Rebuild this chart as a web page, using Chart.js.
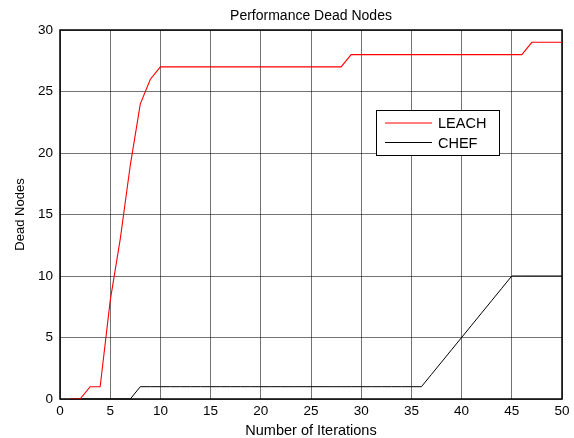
<!DOCTYPE html>
<html>
<head>
<meta charset="utf-8">
<script src="https://cdn.jsdelivr.net/npm/chart.js@4.4.1/dist/chart.umd.min.js"></script>
<style>
  html, body { margin: 0; padding: 0; background: #ffffff; }
  #wrap { width: 574px; height: 438px; }
</style>
</head>
<body>
<div id="wrap"><canvas id="c" width="574" height="438"></canvas></div>
<script>
// ---- data ----
const chartTitle = "Performance Dead Nodes";
const xTitle = "Number of Iterations";
const yTitle = "Dead Nodes";
const seriesNames = ["LEACH", "CHEF"];
const seriesColors = ["#ff0000", "#000000"];
const iterations = [1,2,3,4,5,6,7,8,9,10,11,12,13,14,15,16,17,18,19,20,21,22,23,24,25,26,27,28,29,30,31,32,33,34,35,36,37,38,39,40,41,42,43,44,45,46,47,48,49,50];
const leach = [0,0,1,1,8,13,19,24,26,27, 27,27,27,27,27,27,27,27,27,27, 27,27,27,27,27,27,27,27,28,28, 28,28,28,28,28,28,28,28,28,28, 28,28,28,28,28,28,29,29,29,29];
const chef  = [0,0,0,0,0,0,0,1,1,1, 1,1,1,1,1,1,1,1,1,1, 1,1,1,1,1,1,1,1,1,1, 1,1,1,1,1,1,2,3,4,5, 6,7,8,9,10,10,10,10,10,10];
const xTicks = [0,5,10,15,20,25,30,35,40,45,50];
const yTicks = [0,5,10,15,20,25,30];

const FONT = "'Liberation Sans', Arial, Helvetica, sans-serif";

const toPts = (xs, ys) => xs.map((x, i) => ({x: x, y: ys[i]}));

const framePlugin = {
  id: 'frame',
  beforeDatasetsDraw(chart) {
    const {ctx, chartArea: a} = chart;
    ctx.save();
    ctx.strokeStyle = '#000';
    ctx.lineWidth = 1.5;
    ctx.strokeRect(a.left, a.top, a.right - a.left, a.bottom - a.top);
    ctx.restore();
  },
  afterDraw(chart) {
    const {ctx, chartArea: a} = chart;
    ctx.save();
    ctx.fillStyle = '#000';
    ctx.font = '14px ' + FONT;
    ctx.textAlign = 'center';
    ctx.textBaseline = 'alphabetic';
    ctx.fillText(chartTitle, (a.left + a.right) / 2, 20);
    // legend box inside plot
    const bx = 376, by = 110, bw = 123, bh = 45;
    ctx.fillStyle = '#fff';
    ctx.fillRect(bx, by, bw, bh);
    ctx.strokeStyle = '#000';
    ctx.lineWidth = 1;
    ctx.strokeRect(bx + 0.5, by + 0.5, bw, bh);
    ctx.font = '14.5px ' + FONT;
    seriesNames.forEach((name, i) => {
      const y = by + 13 + i * 19.5;
      ctx.strokeStyle = seriesColors[i];
      ctx.lineWidth = 1.2;
      ctx.beginPath();
      ctx.moveTo(bx + 9, y);
      ctx.lineTo(bx + 56, y);
      ctx.stroke();
      ctx.fillStyle = '#000';
      ctx.textAlign = 'left';
      ctx.textBaseline = 'alphabetic';
      ctx.fillText(name, bx + 62, y + 5);
    });
    ctx.restore();
  }
};

new Chart(document.getElementById('c'), {
  type: 'line',
  data: {
    datasets: [
      { label: seriesNames[0], data: toPts(iterations, leach), borderColor: seriesColors[0], borderWidth: 1.1, pointRadius: 0, fill: false, tension: 0 },
      { label: seriesNames[1], data: toPts(iterations, chef), borderColor: seriesColors[1], borderWidth: 1, pointRadius: 0, fill: false, tension: 0 }
    ]
  },
  options: {
    responsive: false,
    animation: false,
    devicePixelRatio: 1,
    layout: { padding: { top: 30, right: 12, left: 0, bottom: 0 } },
    plugins: { legend: { display: false }, title: { display: false }, tooltip: { enabled: false } },
    scales: {
      x: {
        type: 'linear', min: 0, max: 50,
        afterBuildTicks(s) { s.ticks = xTicks.map(v => ({value: v})); },
        afterFit(s) { s.height = 39; },
        grid: { color: 'rgba(0,0,0,0.55)', lineWidth: 1, drawTicks: false },
        border: { display: false },
        ticks: { color: '#000', font: { family: FONT, size: 13.5 }, padding: 4, maxRotation: 0 },
        title: { display: true, text: xTitle, color: '#000', font: { family: FONT, size: 14.5, lineHeight: 1 }, padding: { top: 0, bottom: 0 } }
      },
      y: {
        type: 'linear', min: 0, max: 30,
        afterBuildTicks(s) { s.ticks = yTicks.map(v => ({value: v})); },
        afterFit(s) { s.width = 60; },
        grid: { color: 'rgba(0,0,0,0.55)', lineWidth: 1, drawTicks: false },
        border: { display: false },
        ticks: { color: '#000', font: { family: FONT, size: 13.5 }, padding: 7 },
        title: { display: true, text: yTitle, color: '#000', font: { family: FONT, size: 13 }, padding: { top: 13, bottom: 0 } }
      }
    }
  },
  plugins: [framePlugin]
});
</script>
</body>
</html>
